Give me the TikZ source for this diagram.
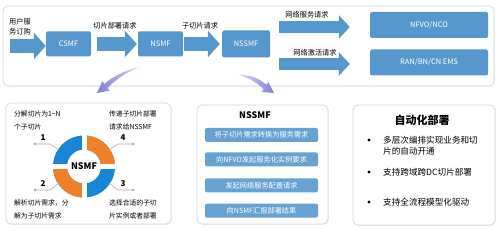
\documentclass[tikz,border=0pt]{standalone}
\usepackage{fontspec}
\setmainfont{Noto Sans CJK SC}
\usetikzlibrary{positioning,arrows.meta,calc,shadows}
\definecolor{boxblue}{RGB}{86,152,206}
\definecolor{ringblue}{RGB}{24,134,212}
\definecolor{ringorange}{RGB}{238,128,40}
\definecolor{panelline}{RGB}{206,214,228}
\definecolor{swoosh}{RGB}{128,124,212}
\definecolor{callgray}{RGB}{175,175,175}
\tikzset{
  panel/.style={draw=panelline, rounded corners=5pt, fill=white, line width=0.7pt,
    drop shadow={shadow xshift=0.8pt,shadow yshift=-0.8pt,opacity=0.12}},
  unitbox/.style={fill=boxblue, text=white, rounded corners=1.5pt, inner sep=0pt,
    font=\fontsize{7.5}{9}\selectfont},
  bigarrow/.style={draw=boxblue, line width=14pt, -{Triangle[length=12pt,width=26pt]}},
  smallarrow/.style={draw=boxblue, line width=12pt, -{Triangle[length=11pt,width=23pt]}},
  msglabel/.style={font=\fontsize{7.2}{10}\selectfont, inner sep=0pt},
  stepbar/.style={fill=boxblue!90!white, text=white, rounded corners=2pt, inner sep=0pt,
    minimum width=113pt, minimum height=14pt, font=\fontsize{7.2}{9}\selectfont},
  note/.style={align=left, anchor=west, inner sep=0pt, font=\fontsize{6.8}{13}\selectfont},
  callout/.style={draw=callgray, line width=0.6pt},
  num/.style={inner sep=0pt, font=\bfseries\fontsize{8}{9}\selectfont},
  bullettext/.style={align=left, anchor=west, inner sep=0pt, font=\fontsize{8.6}{11}\selectfont},
}

\begin{document}
\begin{tikzpicture}[x=1pt,y=-1pt]
    \useasboundingbox (0,0) rectangle (499,230);
    % panels
    \draw[panel] (3,6) rectangle (494,86);
    \draw[panel] (6,103) rectangle (171,224);
    \draw[panel] (197,105) rectangle (328,224);
    \draw[panel] (353,105) rectangle (495,225);

    % top row
    \node[unitbox, minimum width=45pt, minimum height=25pt] (csmf) at (68.5,44) {CSMF};
    \node[unitbox, minimum width=45pt, minimum height=25pt] (nsmf) at (160.5,44) {NSMF};
    \node[unitbox, minimum width=48pt, minimum height=27pt] (nssmf) at (246,44) {NSSMF};
    \node[unitbox, minimum width=118pt, minimum height=26pt] (nfvo) at (429,25) {NFVO/NCO};
    \node[unitbox, minimum width=118pt, minimum height=26pt] (ems) at (429,62.5) {RAN/BN/CN EMS};

    \coordinate (order) at (10,46);
    \draw[bigarrow] (order) -- (order -| csmf.west);
    \draw[bigarrow] ([xshift=6pt]csmf.east) -- ([xshift=-1pt]nsmf.west);
    \draw[bigarrow] ([xshift=1pt]nsmf.east) -- ([xshift=-2pt]nssmf.west);
    \draw[smallarrow] ($(nssmf.east |- nfvo.west)+(9,2)$) -- ($(nfvo.west)+(-20,2)$);
    \draw[smallarrow] ($(nssmf.east |- ems.west)+(9,1.5)$) -- ($(ems.west)+(-20,1.5)$);

    \node[msglabel, align=left, anchor=west] (orderlbl) at (9,27) {用户服\\务订购};
    \node[msglabel] (deploylbl) at (115,26) {切片部署请求};
    \node[msglabel] (sublbl) at (200,26) {子切片请求};
    \node[msglabel] (servlbl) at (307,15) {网络服务请求};
    \node[msglabel] (actlbl) at (315,53) {网络激活请求};

    % curved arrows
    \shade[left color=swoosh, right color=swoosh!25] (140,67) .. controls (125,70) and (112,77) .. (104.5,84)
        -- (102.3,81.3) -- (97,93) -- (109.7,90.7) -- (107.5,88) .. controls (115,80) and (127,72) .. cycle;
    \shade[left color=swoosh!25, right color=swoosh] (238,75) .. controls (250,74) and (260,79) .. (266.4,84.9)
        -- (268.3,82) -- (274,93) -- (261.7,92) -- (263.6,89.1) .. controls (257,83) and (248,77) .. cycle;

    % NSMF ring
    \coordinate (hub) at (84,166.5);
    \fill[ringblue, even odd rule] (hub) circle (31) (hub) circle (17);
    \begin{scope}
        \clip (hub) rectangle (120,130);
        \fill[ringorange, even odd rule] (hub) circle (31) (hub) circle (17);
    \end{scope}
    \begin{scope}
        \clip (hub) rectangle (48,203);
        \fill[ringorange, even odd rule] (hub) circle (31) (hub) circle (17);
    \end{scope}
    \draw[white, line width=5pt] ($(hub)+(-33,0)$) -- ($(hub)+(33,0)$) ($(hub)+(0,-33)$) -- ($(hub)+(0,33)$);
    \node[font=\bfseries\fontsize{9}{10}\selectfont] (hubname) at (hub) {NSMF};

    % callouts
    \coordinate (c1) at (35,144);
    \coordinate (c2) at (35,190);
    \coordinate (c3) at (133,190);
    \coordinate (c4) at (133,144);
    \foreach \c in {c1,c2,c3,c4} \fill[callgray] (\c) circle (1.5);
    \draw[callout] (c1) -- (50,144) -- (59,150);
    \draw[callout] (c4) -- (118,144) -- (109,150);
    \draw[callout] (c2) -- (50,190) -- (59,183);
    \draw[callout] (c3) -- (118,190) -- (109,183);
    \node[num] (n1) at (43,138) {1};
    \node[num] (n4) at (123,138) {4};
    \node[num] (n2) at (43,184) {2};
    \node[num] (n3) at (123,184) {3};

    \node[note] (note1) at (14,120) {分解切片为1\textasciitilde N\\个子切片};
    \node[note] (note4) at (109,120) {传递子切片部署\\请求给NSSMF};
    \node[note] (note2) at (14,209) {解析切片需求，分\\解为子切片需求};
    \node[note] (note3) at (109,209) {选择合适的子切\\片实例或者部署};

    % NSSMF steps
    \node[font=\bfseries\fontsize{9}{10}\selectfont] (nssmftitle) at (255,115) {NSSMF};
    \node[stepbar] (s1) at (261.5,135) {将子切片需求转换为服务需求};
    \node[stepbar, below=10pt of s1] (s2) {向NFVO发起服务化实例要求};
    \node[stepbar, below=11.5pt of s2] (s3) {发起网络服务配置请求};
    \node[stepbar, below=11pt of s3] (s4) {向NSMF汇报部署结果};

    % automation
    \node[font=\bfseries\fontsize{11}{12}\selectfont] (autotitle) at (422,120) {自动化部署};
    \foreach \y in {140,172,202} \fill (369,\y) circle (1.6);
    \node[bullettext] (b1) at (383,145.5) {多层次编排实现业务和切\\片的自动开通};
    \node[bullettext] (b2) at (383,172) {支持跨域跨DC切片部署};
    \node[bullettext] (b3) at (383,202) {支持全流程模型化驱动};
\end{tikzpicture}
\end{document}
